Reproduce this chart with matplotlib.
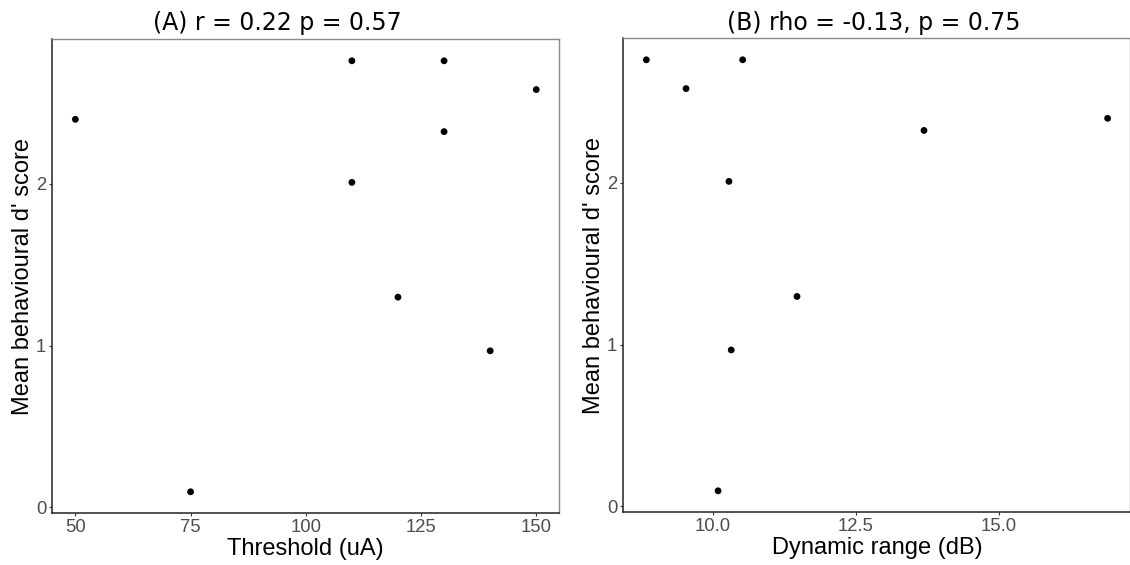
import matplotlib
matplotlib.use("Agg")
import matplotlib.pyplot as plt

# Data
threshold_ua = [50, 75, 110, 110, 120, 130, 130, 140, 150]
score_a = [2.40, 0.096, 2.762, 2.01, 1.30, 2.762, 2.324, 0.968, 2.584]

dynamic_range_db = [8.836, 9.53, 10.52, 10.28, 10.32, 10.09, 11.47, 13.69, 16.90]
score_b = [2.762, 2.584, 2.762, 2.01, 0.967, 0.096, 1.298, 2.325, 2.40]

title_a = "(A) r = 0.22 p = 0.57"
title_b = "(B) rho = -0.13, p = 0.75"
xlabel_a = "Threshold (uA)"
xlabel_b = "Dynamic range (dB)"
ylabel = "Mean behavioural d' score"
xticks_a = [50, 75, 100, 125, 150]
xticks_b = [10.0, 12.5, 15.0]
xticklabels_b = ["10.0", "12.5", "15.0"]
yticks = [0, 1, 2]

W, H = 1130, 565
fig = plt.figure(figsize=(W / 100, H / 100), dpi=100)

def px_axes(left, top, right, bottom):
    return fig.add_axes([left / W, 1 - bottom / H, (right - left) / W, (bottom - top) / H])

ax_a = px_axes(52.3, 39.3, 559.3, 513.3)
ax_b = px_axes(623.3, 38.3, 1130.5, 512.3)

label_font = ["Liberation Sans", "DejaVu Sans"]

def style(ax, x, y, xlabel, xticks, xticklabels, xlim):
    ax.scatter(x, y, s=24, color="black", edgecolors="none", zorder=3)
    ax.set_xlim(*xlim)
    ax.set_ylim(-0.037, 2.895)
    ax.set_xticks(xticks)
    ax.set_xticklabels(xticklabels, fontfamily=label_font, fontsize=13.3, color="#4D4D4D")
    ax.set_yticks(yticks)
    ax.set_yticklabels([str(v) for v in yticks], fontfamily=label_font, fontsize=13.3, color="#4D4D4D")
    ax.tick_params(axis="both", direction="out", length=2.2, width=0.8, color="#333333", pad=2.2)
    for side in ("top", "right"):
        ax.spines[side].set_color("#8a8a8a")
        ax.spines[side].set_linewidth(1.0)
    for side in ("left", "bottom"):
        ax.spines[side].set_color("#222222")
        ax.spines[side].set_linewidth(1.1)
    ax.set_xlabel(xlabel, fontfamily=label_font, fontsize=17, color="black", labelpad=1.5)
    ax.set_ylabel(ylabel, fontfamily=label_font, fontsize=17, color="black", labelpad=1.5)

style(ax_a, threshold_ua, score_a, xlabel_a, xticks_a, [str(v) for v in xticks_a], (45, 155))
style(ax_b, dynamic_range_db, score_b, xlabel_b, xticks_b, xticklabels_b, (8.433, 17.30))

fig.text(277 / W, 1 - 30 / H, title_a, ha="center", va="baseline",
         fontfamily="DejaVu Sans", fontsize=17, color="black")
fig.text(874 / W, 1 - 30 / H, title_b, ha="center", va="baseline",
         fontfamily="DejaVu Sans", fontsize=17, color="black")

fig.savefig("out.png", dpi=100)
